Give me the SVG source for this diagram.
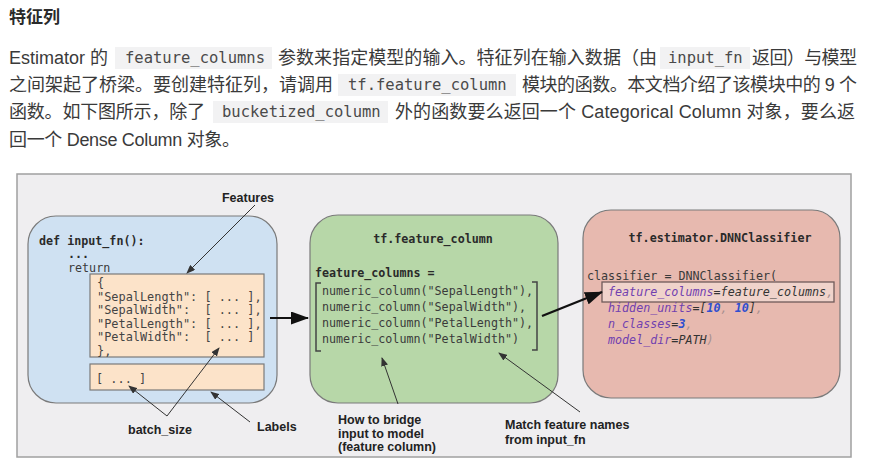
<svg xmlns="http://www.w3.org/2000/svg" width="878" height="469" viewBox="0 0 878 469">
<style>
.zh{font-family:"Liberation Sans","Noto Sans CJK SC",sans-serif;font-size:18px;fill:#3a3a3a}
.h1{font-family:"Liberation Sans","Noto Sans CJK SC",sans-serif;font-size:17px;font-weight:bold;fill:#2a2a2a}
.cbg{fill:#f2f2f3}
.ct{font-family:"DejaVu Sans Mono","Liberation Mono",monospace;font-size:15.5px;fill:#4a4a4a}
.m{font-family:"DejaVu Sans Mono","Liberation Mono",monospace;font-size:11.7px;fill:#3a3a3a;white-space:pre}
.mb{font-family:"DejaVu Sans Mono","Liberation Mono",monospace;font-size:11.7px;font-weight:bold;fill:#2a2a2a;white-space:pre}
.mo{font-family:"DejaVu Sans Mono","Liberation Mono",monospace;font-size:11.9px;fill:#444;white-space:pre}
.mi{font-family:"DejaVu Sans Mono","Liberation Mono",monospace;font-size:11.7px;font-style:italic;fill:#333;white-space:pre}
.lbl{font-family:"Liberation Sans",Arial,sans-serif;font-size:12.5px;font-weight:bold;fill:#222}
.box{stroke:#7a7a7a;stroke-width:1.2}
.thin{stroke:#333;stroke-width:1;fill:none}
.thick{stroke:#111;stroke-width:2.2;fill:none}
.pp{fill:#7040b0}
.nb{fill:#2f4fd0;font-weight:bold}
.cm{fill:#a89090}
</style>
<defs>
<marker id="ah" markerUnits="userSpaceOnUse" markerWidth="9" markerHeight="7" refX="8" refY="3.5" orient="auto">
<path d="M0,0 L9,3.5 L0,7 z" fill="#333"/>
</marker>
<marker id="big" markerUnits="userSpaceOnUse" markerWidth="18" markerHeight="13" refX="17" refY="6.5" orient="auto">
<path d="M0,0 L18,6.5 L0,13 z" fill="#111"/>
</marker>
</defs>
<rect x="0" y="0" width="878" height="469" fill="#ffffff"/>

<g id="header">
<text class="h1" x="9" y="23">特征列</text>
<rect class="cbg" x="115" y="47" width="157" height="22"/>
<rect class="cbg" x="660" y="47" width="90" height="22"/>
<rect class="cbg" x="338" y="74" width="178" height="22"/>
<rect class="cbg" x="213" y="101" width="175" height="22"/>
<text class="zh" x="9" y="64">Estimator 的</text>
<text class="ct" x="125" y="63">feature_columns</text>
<text class="zh" x="278" y="64" textLength="379" lengthAdjust="spacing">参数来指定模型的输入。特征列在输入数据（由</text>
<text class="ct" x="668" y="63">input_fn</text>
<text class="zh" x="752" y="64" textLength="105" lengthAdjust="spacing">返回）与模型</text>
<text class="zh" x="9" y="91" textLength="324" lengthAdjust="spacing">之间架起了桥梁。要创建特征列，请调用</text>
<text class="ct" x="348" y="90">tf.feature_column</text>
<text class="zh" x="522" y="91" textLength="335" lengthAdjust="spacing">模块的函数。本文档介绍了该模块中的 9 个</text>
<text class="zh" x="9" y="118" textLength="196" lengthAdjust="spacing">函数。如下图所示，除了</text>
<text class="ct" x="222" y="117">bucketized_column</text>
<text class="zh" x="395" y="118" textLength="460" lengthAdjust="spacing">外的函数要么返回一个 Categorical Column 对象，要么返</text>
<text class="zh" x="9" y="146" textLength="231" lengthAdjust="spacing">回一个 Dense Column 对象。</text>
</g>

<rect id="panel" x="17" y="174" width="834" height="283" fill="#efeef0" stroke="#a0a0a0" stroke-width="1.5"/>

<g id="input_fn">
<rect class="box" x="28" y="216" width="249" height="187" rx="28" fill="#cfe1f2"/>
<text class="mb" x="39" y="245">def input_fn():</text>
<text class="mb" x="68" y="258">...</text>
<text class="m" x="68" y="272">return</text>
</g>

<g id="features_box">
<rect class="box" x="90" y="274" width="174" height="83" fill="#fce3c9"/>
<text class="mo" x="97" y="287">{</text>
<text class="mo" x="97" y="300.6">"SepalLength": [ ... ],</text>
<text class="mo" x="97" y="314.2">"SepalWidth":  [ ... ],</text>
<text class="mo" x="97" y="327.8">"PetalLength": [ ... ],</text>
<text class="mo" x="97" y="341.4">"PetalWidth":  [ ... ]</text>
<text class="mo" x="97" y="355">},</text>
</g>

<g id="labels_box">
<rect class="box" x="90" y="364" width="174" height="26" fill="#fce3c9"/>
<text class="mo" x="96" y="383">[ ... ]</text>
</g>

<g id="feature_column">
<rect class="box" x="310" y="215" width="248" height="188" rx="28" fill="#b7d7a8"/>
<text class="mb" x="433" y="243" text-anchor="middle">tf.feature_column</text>
<text class="mb" x="315" y="277">feature_columns =</text>
<path d="M321,283 L316,283 L316,351 L321,351" fill="none" stroke="#444" stroke-width="1.5"/>
<path d="M532,282 L537,282 L537,350 L532,350" fill="none" stroke="#444" stroke-width="1.5"/>
<text class="m" x="322" y="295">numeric_column("SepalLength"),</text>
<text class="m" x="322" y="311">numeric_column("SepalWidth"),</text>
<text class="m" x="322" y="327">numeric_column("PetalLength"),</text>
<text class="m" x="322" y="343">numeric_column("PetalWidth")</text>
</g>

<g id="dnnclassifier">
<rect class="box" x="583" y="210" width="257" height="188" rx="28" fill="#e7b9af"/>
<text class="mb" x="720" y="242" text-anchor="middle">tf.estimator.DNNClassifier</text>
<text class="m" x="587" y="280">classifier = DNNClassifier(</text>
<rect x="602" y="282" width="232" height="20" fill="#f0d3cb" stroke="#6f5a5a" stroke-width="1.3"/>
<text class="mi" x="608" y="296"><tspan class="pp">feature_columns</tspan>=feature_columns<tspan class="cm">,</tspan></text>
<text class="mi" x="608" y="312"><tspan class="pp">hidden_units</tspan>=[<tspan class="nb">10</tspan><tspan class="cm">, </tspan><tspan class="nb">10</tspan>]<tspan class="cm">,</tspan></text>
<text class="mi" x="608" y="328"><tspan class="pp">n_classes</tspan>=<tspan class="nb">3</tspan><tspan class="cm">,</tspan></text>
<text class="mi" x="608" y="344"><tspan class="pp">model_dir</tspan>=PATH<tspan class="cm">)</tspan></text>
</g>

<g id="annotations">
<text class="lbl" x="248" y="202" text-anchor="middle">Features</text>
<text class="lbl" x="128" y="434">batch_size</text>
<text class="lbl" x="257" y="431">Labels</text>
<text class="lbl" x="338" y="424">How to bridge</text>
<text class="lbl" x="338" y="437.5">input to model</text>
<text class="lbl" x="338" y="451">(feature column)</text>
<text class="lbl" x="505" y="428.5">Match feature names</text>
<text class="lbl" x="505" y="443.5">from input_fn</text>
</g>

<g id="connectors">
<line class="thick" x1="270" y1="318" x2="308" y2="318" marker-end="url(#big)"/>
<line class="thick" x1="542" y1="316" x2="602" y2="292" marker-end="url(#big)"/>
<line class="thin" x1="255" y1="205" x2="187" y2="273" marker-end="url(#ah)"/>
<line class="thin" x1="167" y1="416" x2="129" y2="386" marker-end="url(#ah)"/>
<line class="thin" x1="167" y1="416" x2="219" y2="348" marker-end="url(#ah)"/>
<line class="thin" x1="250" y1="422" x2="211" y2="392" marker-end="url(#ah)"/>
<line class="thin" x1="398" y1="404" x2="382" y2="358" marker-end="url(#ah)"/>
<line class="thin" x1="580" y1="412" x2="499" y2="353" marker-end="url(#ah)"/>
</g>
</svg>
